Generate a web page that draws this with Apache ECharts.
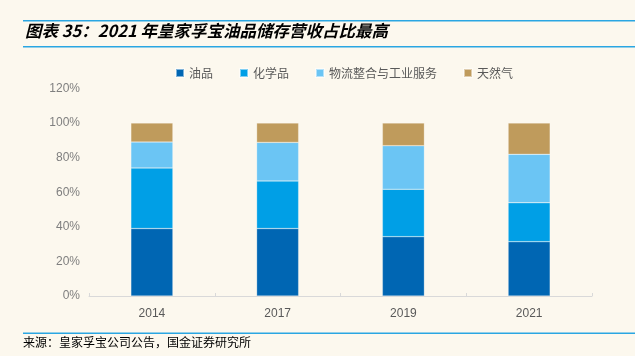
<!DOCTYPE html>
<html>
<head>
<meta charset="utf-8">
<script src="https://cdn.jsdelivr.net/npm/echarts@6/dist/echarts.min.js"></script>
<style>
html,body{margin:0;padding:0;background:#FCF8EE;}
#c{width:635px;height:356px;}
</style>
</head>
<body>
<div id="c"></div>
<script>
var years = ['2014', '2017', '2019', '2021'];
var oil = [39, 39, 34.3, 31.4];
var chem = [35, 27.5, 27.4, 22.5];
var logistics = [15, 22.3, 25.2, 28];
var gas = [11, 11.2, 13.1, 18.1];
var seriesNames = ['油品', '化学品', '物流整合与工业服务', '天然气'];
var yTicks = [0, 20, 40, 60, 80, 100, 120];
var titleText = '图表 35：2021 年皇家孚宝油品储存营收占比最高';
var sourceText = '来源：皇家孚宝公司公告，国金证券研究所';

var colors = ['#0066B3', '#009FE6', '#6BC5F4', '#BF9B5C'];
var values = [oil, chem, logistics, gas];

var chart = echarts.init(document.getElementById('c'), null, {renderer: 'canvas'});
var series = seriesNames.map(function (n, i) {
  return {
    name: n,
    type: 'bar',
    stack: 'total',
    barWidth: 42,
    data: values[i],
    itemStyle: {color: colors[i], borderColor: 'rgba(255,255,255,0.5)', borderWidth: 0.5},
    emphasis: {disabled: true}
  };
});

chart.setOption({
  backgroundColor: '#FCF8EE',
  animation: false,
  color: colors,
  legend: {
    data: seriesNames,
    left: 170,
    top: 62,
    itemWidth: 8,
    itemHeight: 8,
    itemGap: 26,
    icon: 'rect',
    textStyle: {color: '#595959', fontSize: 12, fontFamily: 'Noto Sans CJK SC'}
  },
  grid: {left: 89, right: 43, top: 88.4, bottom: 60},
  xAxis: {
    type: 'category',
    data: years,
    axisLine: {lineStyle: {color: '#D9D9D9', width: 1}},
    axisTick: {show: true, inside: true, length: 3, lineStyle: {color: '#D9D9D9'}},
    axisLabel: {color: '#595959', fontSize: 12, margin: 12, fontFamily: 'Liberation Sans'}
  },
  yAxis: {
    type: 'value',
    min: yTicks[0],
    max: yTicks[yTicks.length - 1],
    interval: 20,
    axisLine: {show: false},
    axisTick: {show: false},
    splitLine: {show: false},
    axisLabel: {color: '#7F7F7F', fontSize: 12, margin: 9, formatter: '{value}%', fontFamily: 'Liberation Sans'}
  },
  graphic: [
    {type: 'line', shape: {x1: 23, y1: 20.7, x2: 635, y2: 20.7}, style: {stroke: '#2AA6E2', lineWidth: 1.5}},
    {type: 'line', shape: {x1: 23, y1: 46.7, x2: 635, y2: 46.7}, style: {stroke: '#2AA6E2', lineWidth: 1.5}},
    {type: 'text', left: 25, top: 22.5, style: {text: titleText, fill: '#000', font: 'italic bold 16.5px "Noto Sans CJK SC", sans-serif'}},
    {type: 'line', shape: {x1: 23, y1: 333.3, x2: 635, y2: 333.3}, style: {stroke: '#2AA6E2', lineWidth: 1.5}},
    {type: 'text', left: 23, top: 336.5, style: {text: sourceText, fill: '#000', font: '12px "Noto Sans CJK SC", sans-serif'}}
  ],
  series: series
});
</script>
</body>
</html>
